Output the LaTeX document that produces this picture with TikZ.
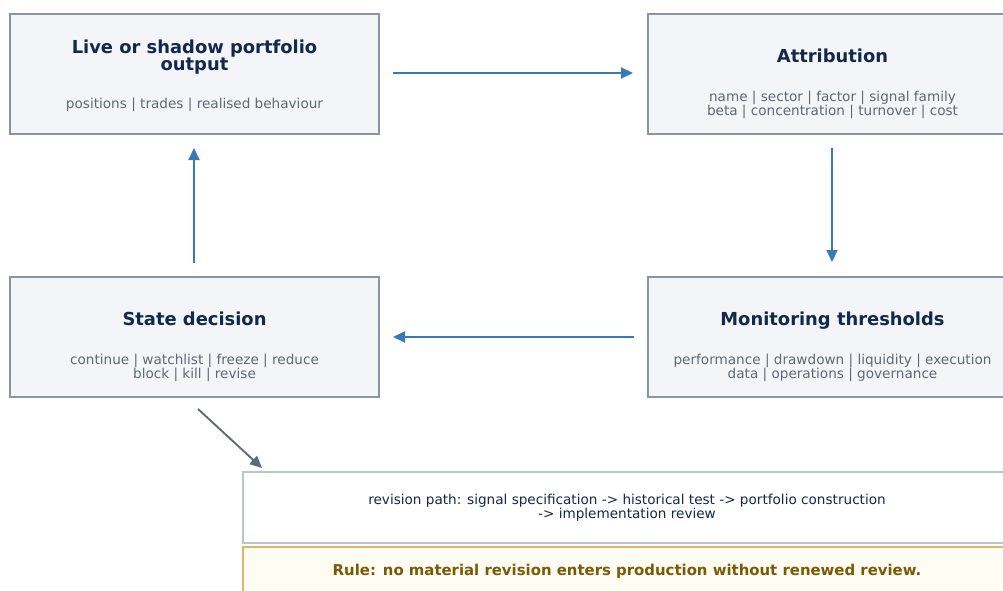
\documentclass[tikz,border=0pt]{standalone}
\usepackage{fontspec}
\setmainfont{DejaVu Sans}
\usetikzlibrary{arrows.meta}
\definecolor{boxfill}{HTML}{F3F5F9}
\definecolor{boxline}{HTML}{8A94A3}
\definecolor{titlecol}{HTML}{13294B}
\definecolor{subcol}{HTML}{5F6874}
\definecolor{flowblue}{HTML}{3B78B8}
\definecolor{diagcol}{HTML}{5F6A78}
\definecolor{pathline}{HTML}{BCC4CF}
\definecolor{rulefill}{HTML}{FFFCF3}
\definecolor{ruleline}{HTML}{D8B863}
\definecolor{ruletext}{HTML}{7A5A05}
\tikzset{
  stage/.style={draw=boxline, line width=1.6pt, fill=boxfill, rectangle,
    minimum width=369pt, minimum height=120pt, inner sep=0pt},
  stagetitle/.style={font=\fontsize{17.9}{17}\selectfont\bfseries, text=titlecol, anchor=base, inner sep=0pt},
  stagesub/.style={font=\fontsize{13.6}{14}\selectfont, text=subcol, anchor=base, inner sep=0pt},
  flow/.style={draw=flowblue, line width=1.9pt, -{Triangle[length=12pt,width=11pt]}},
  diag/.style={draw=diagcol, line width=1.9pt, -{Triangle[length=12pt,width=11pt]}},
}
\begin{document}
\begin{tikzpicture}[x=1pt,y=-1pt]
\useasboundingbox (0,0) rectangle (1003,591);
% stage boxes
\node[stage] (out) at (194.5,74) {};
\node[stage] (att) at (832.5,74) {};
\node[stage] (dec) at (194.5,337) {};
\node[stage] (mon) at (832.5,337) {};
% stage texts, one node per line, placed on their baselines
\node[stagetitle] (outT1) at (194.5,54) {Live or shadow portfolio};
\node[stagetitle] (outT2) at (194.5,71) {output};
\node[stagesub] (outS1) at (194.5,109) {positions | trades | realised behaviour};
\node[stagetitle] (attT1) at (832.5,63) {Attribution};
\node[stagesub] (attS1) at (832.5,102) {name | sector | factor | signal family};
\node[stagesub] (attS2) at (832.5,116) {beta | concentration | turnover | cost};
\node[stagetitle] (decT1) at (194.5,325) {State decision};
\node[stagesub] (decS1) at (194.5,364) {continue | watchlist | freeze | reduce};
\node[stagesub] (decS2) at (194.5,378) {block | kill | revise};
\node[stagetitle] (monT1) at (832.5,325) {Monitoring thresholds};
\node[stagesub] (monS1) at (832.5,364) {performance | drawdown | liquidity | execution};
\node[stagesub] (monS2) at (832.5,378) {data | operations | governance};
% revision path and rule
\node[draw=pathline, line width=1.4pt, fill=white, minimum width=768pt, minimum height=71pt, inner sep=0pt] (rev) at (627,507.5) {};
\node[stagesub, text=titlecol] (revT1) at (627,504) {revision path: signal specification -> historical test -> portfolio construction};
\node[stagesub, text=titlecol] (revT2) at (627,518) {-> implementation review};
\node[draw=ruleline, line width=1.4pt, fill=rulefill, minimum width=768pt, minimum height=48pt, inner sep=0pt] (rule) at (627,571) {};
\node[font=\fontsize{14.9}{16}\selectfont\bfseries, text=ruletext, anchor=base, inner sep=0pt] (ruleT) at (627,575.5) {Rule: no material revision enters production without renewed review.};
% cycle connectors
\coordinate (a1) at (393,73);  \coordinate (a2) at (633,73);
\coordinate (b1) at (832,148); \coordinate (b2) at (832,262);
\coordinate (c1) at (634,337); \coordinate (c2) at (393,337);
\coordinate (d1) at (194,263); \coordinate (d2) at (194,148);
\coordinate (e1) at (198,409); \coordinate (e2) at (262,468);
\draw[flow] (a1) -- (a2);
\draw[flow] (b1) -- (b2);
\draw[flow] (c1) -- (c2);
\draw[flow] (d1) -- (d2);
\draw[diag] (e1) -- (e2);
\end{tikzpicture}
\end{document}
